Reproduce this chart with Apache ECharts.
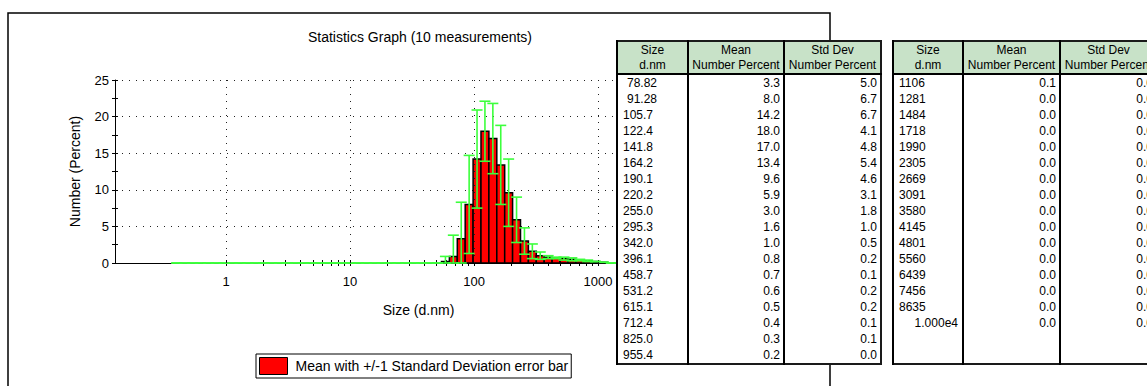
<!DOCTYPE html>
<html>
<head>
<meta charset="utf-8">
<script src="https://cdn.jsdelivr.net/npm/echarts@6/dist/echarts.min.js"></script>
<style>
html,body{margin:0;padding:0;background:#fff;width:1147px;height:386px;overflow:hidden;}
#chart{position:absolute;left:0;top:0;width:1147px;height:386px;}
.tbl{position:absolute;top:40px;border-collapse:collapse;background:#fff;table-layout:fixed;
  font-family:'Liberation Sans',Arial,sans-serif;font-size:12px;color:#000;border:2px solid #1a1a1a;}
.tbl th{background:#c8e2c8;font-weight:normal;line-height:15px;padding:1px 0 0 0;text-align:center;
  border-left:2px solid #000;border-bottom:2px solid #000;white-space:nowrap;overflow:hidden;}
.tbl td{height:16px;line-height:16px;padding:0;border-left:2px solid #000;white-space:nowrap;overflow:hidden;}
.tbl td.c1{text-align:left;padding-left:5px;}
.tbl td.c1.ind{padding-left:9px;}
.tbl td.c1.rt{text-align:right;padding-left:0;padding-right:4px;}
.tbl td.num{text-align:right;padding-right:3px;}
</style>
</head>
<body>
<div id="chart"></div>
<script>
// ---- data ----
const sizeLabels = ['0.4000','0.4632','0.5365','0.6213','0.7195','0.8332','0.9649','1.117','1.294','1.499',
  '1.736','2.010','2.328','2.696','3.122','3.615','4.187','4.849','5.615','6.503','7.531','8.721',
  '10.10','11.70','13.54','15.69','18.17','21.04','24.36','28.21','32.67','37.84','43.82','50.75',
  '58.77','68.06','78.82','91.28','105.7','122.4','141.8','164.2','190.1','220.2','255.0','295.3',
  '342.0','396.1','458.7','531.2','615.1','712.4','825.0','955.4','1106','1281','1484','1718','1990',
  '2305','2669','3091','3580','4145','4801','5560','6439','7456','8635','1.000e4'];
const meanPct = [0,0,0,0,0,0,0,0,0,0,
  0,0,0,0,0,0,0,0,0,0,0,0,
  0,0,0,0,0,0,0,0,0,0,0,0,
  0.2,0.9,3.3,8.0,14.2,18.0,17.0,13.4,9.6,5.9,3.0,1.6,
  1.0,0.8,0.7,0.6,0.5,0.4,0.3,0.2,0.1,0.0,0.0,0.0,0.0,
  0.0,0.0,0.0,0.0,0.0,0.0,0.0,0.0,0.0,0.0,0.0];
const sdPct = [0,0,0,0,0,0,0,0,0,0,
  0,0,0,0,0,0,0,0,0,0,0,0,
  0,0,0,0,0,0,0,0,0,0,0,0,
  0.7,2.9,5.0,6.7,6.7,4.1,4.8,5.4,4.6,3.1,1.8,1.0,
  0.5,0.2,0.1,0.2,0.2,0.1,0.1,0.0,0.0,0.0,0.0,0.0,0.0,
  0.0,0.0,0.0,0.0,0.0,0.0,0.0,0.0,0.0,0.0,0.0];
const xLabelValues = [1, 10, 100, 1000];
const xGridValues = [1, 10, 100, 1000];
const xTickValues = [1,2,3,4,5,6,7,8,9,10,20,30,40,50,60,70,80,90,
  100,200,300,400,500,600,700,800,900,1000,2000,3000,4000,5000,6000,7000,8000,9000,10000];
const table1Rows = [36, 53];   // index range shown in first table
const table2Rows = [54, 69];   // index range shown in second table
const headers = [['Size','d.nm'],['Mean','Number Percent'],['Std Dev','Number Percent']];
const titleText = 'Statistics Graph (10 measurements)';
const legendName = 'Mean with +/-1 Standard Deviation error bar';

// ---- derived ----
const sizes = sizeLabels.map(Number);
const edges = [];
for (let i = 0; i <= sizes.length; i++) {
  if (i === 0) edges.push(sizes[0] * Math.sqrt(sizes[0] / sizes[1]));
  else if (i === sizes.length) edges.push(sizes[i-1] * Math.sqrt(sizes[i-1] / sizes[i-2]));
  else edges.push(Math.sqrt(sizes[i-1] * sizes[i]));
}
const barData = sizes.map((s, i) => [edges[i], edges[i+1], meanPct[i]]);
const errData = sizes.map((s, i) => [s, meanPct[i], sdPct[i]]);

const FONT = "'Liberation Sans', Arial, sans-serif";
const XMIN = 0.127, XMAX = 10000;
const gridRect = {left: 115, top: 80, width: 607, height: 183};

const chart = echarts.init(document.getElementById('chart'), null, {renderer: 'svg'});
chart.setOption({
  animation: false,
  textStyle: {fontFamily: FONT, color: '#000'},
  graphic: [
    {type: 'rect', shape: {x: 8, y: 13, width: 822, height: 420}, style: {fill: 'none', stroke: '#000', lineWidth: 1.5}, z: -1},
    {type: 'text', x: 420, y: 37, style: {text: titleText, fontSize: 14, fontFamily: FONT, fill: '#000', align: 'center', verticalAlign: 'middle'}}
  ],
  legend: {
    data: [{name: legendName, icon: 'rect'}],
    left: 256, top: 354,
    padding: [3, 3, 3, 3],
    borderColor: '#000', borderWidth: 1,
    itemWidth: 28, itemHeight: 17,
    itemStyle: {color: '#ff0000', borderColor: '#000', borderWidth: 1},
    textStyle: {fontSize: 14, color: '#000', fontFamily: FONT, padding: [0, 0, 0, 3]},
    selectedMode: false
  },
  grid: [
    Object.assign({}, gridRect),
    Object.assign({}, gridRect)
  ],
  xAxis: [
    {type: 'log', gridIndex: 0, min: XMIN, max: XMAX, logBase: 10,
     name: 'Size (d.nm)', nameLocation: 'middle', nameGap: 40,
     nameTextStyle: {fontSize: 14, color: '#000'},
     axisLine: {show: true, lineStyle: {color: '#000', width: 1}},
     axisTick: {show: true, length: 3, customValues: xTickValues, lineStyle: {color: '#000'}},
     axisLabel: {show: true, customValues: xLabelValues, margin: 12, fontSize: 13, color: '#000',
       formatter: v => String(Math.round(v))},
     splitLine: {show: false}, minorTick: {show: false}},
    {type: 'log', gridIndex: 1, min: XMIN, max: XMAX, logBase: 10,
     axisLine: {show: false},
     axisTick: {show: true, inside: true, length: 3, customValues: xTickValues, lineStyle: {color: '#000'}},
     axisLabel: {show: false}, splitLine: {show: false}}
  ],
  yAxis: [
    {type: 'value', gridIndex: 0, min: 0, max: 25, interval: 5,
     name: 'Number (Percent)', nameLocation: 'middle', nameGap: 33,
     nameTextStyle: {fontSize: 14, color: '#000'},
     axisLine: {show: true, lineStyle: {color: '#000', width: 1}},
     axisTick: {show: true, length: 3, lineStyle: {color: '#000'}},
     minorTick: {show: true, splitNumber: 2, length: 3, lineStyle: {color: '#000'}},
     axisLabel: {margin: 6, fontSize: 13, color: '#000'},
     splitLine: {show: true, lineStyle: {color: '#222', width: 1, type: [1, 6]}}},
    {type: 'value', gridIndex: 1, min: 0, max: 25, interval: 5,
     axisLine: {show: false},
     axisTick: {show: true, inside: true, length: 3, lineStyle: {color: '#000'}},
     minorTick: {show: true, splitNumber: 2, length: 3, lineStyle: {color: '#000'}},
     axisLabel: {show: false}, splitLine: {show: false}}
  ],
  series: [
    {
      type: 'custom', name: legendName, xAxisIndex: 0, yAxisIndex: 0,
      encode: {x: [0, 1], y: 2},
      itemStyle: {color: '#ff0000', borderColor: '#000', borderWidth: 1},
      data: barData,
      renderItem: function (params, api) {
        const m = api.value(2);
        if (!(m > 0)) return null;
        const p0 = api.coord([api.value(0), m]);
        const p1 = api.coord([api.value(1), 0]);
        return {type: 'rect', shape: {x: p0[0], y: p0[1], width: p1[0] - p0[0], height: p1[1] - p0[1]},
          style: {fill: '#ff0000', stroke: '#000', lineWidth: 1.5}};
      },
      markLine: {
        silent: true, symbol: ['none', 'none'], label: {show: false},
        lineStyle: {color: '#222', width: 1, type: [1, 6]},
        data: xGridValues.map(v => ({xAxis: v}))
      }
    },
    {
      type: 'custom', name: 'errors', xAxisIndex: 0, yAxisIndex: 0,
      encode: {x: 0, y: 1},
      data: errData,
      z: 3,
      renderItem: function (params, api) {
        const s = api.value(0), m = api.value(1), d = api.value(2);
        const top = api.coord([s, m + d]);
        const bot = api.coord([s, Math.max(0, m - d)]);
        const x = top[0], hw = 5.5;
        const st = {stroke: '#3cff3c', lineWidth: 1.6};
        return {type: 'group', children: [
          {type: 'line', shape: {x1: x, y1: top[1], x2: x, y2: bot[1]}, style: st},
          {type: 'line', shape: {x1: x - hw, y1: top[1], x2: x + hw, y2: top[1]}, style: st},
          {type: 'line', shape: {x1: x - hw, y1: bot[1], x2: x + hw, y2: bot[1]}, style: st}
        ]};
      }
    }
  ]
});

// ---- tables ----
function buildTable(left, colW, range, fillRows) {
  const t = document.createElement('table');
  t.className = 'tbl';
  t.style.left = left + 'px';
  const cg = document.createElement('colgroup');
  colW.forEach(w => { const c = document.createElement('col'); c.style.width = w + 'px'; cg.appendChild(c); });
  t.appendChild(cg);
  t.style.width = colW.reduce((a, b) => a + b, 0) + 'px';
  const hr = document.createElement('tr');
  headers.forEach(h => { const th = document.createElement('th'); th.innerHTML = h[0] + '<br>' + h[1]; hr.appendChild(th); });
  t.appendChild(hr);
  for (let i = range[0]; i <= range[1]; i++) {
    const tr = document.createElement('tr');
    const c1 = document.createElement('td');
    c1.className = 'c1';
    if (sizeLabels[i] === '78.82' || sizeLabels[i] === '91.28') c1.className += ' ind';
    if (sizeLabels[i].indexOf('e') >= 0) c1.className += ' rt';
    c1.textContent = sizeLabels[i];
    const c2 = document.createElement('td'); c2.className = 'num'; c2.textContent = meanPct[i].toFixed(1);
    const c3 = document.createElement('td'); c3.className = 'num'; c3.textContent = sdPct[i].toFixed(1);
    tr.appendChild(c1); tr.appendChild(c2); tr.appendChild(c3);
    t.appendChild(tr);
  }
  if (fillRows > 0) {
    const tr = document.createElement('tr');
    for (let k = 0; k < 3; k++) { const td = document.createElement('td'); td.style.height = (16 * fillRows) + 'px'; tr.appendChild(td); }
    t.appendChild(tr);
  }
  document.body.appendChild(t);
}
buildTable(616, [71, 96, 97], table1Rows, 0);
buildTable(892, [70, 97, 97], table2Rows, 2);
</script>
</body>
</html>
